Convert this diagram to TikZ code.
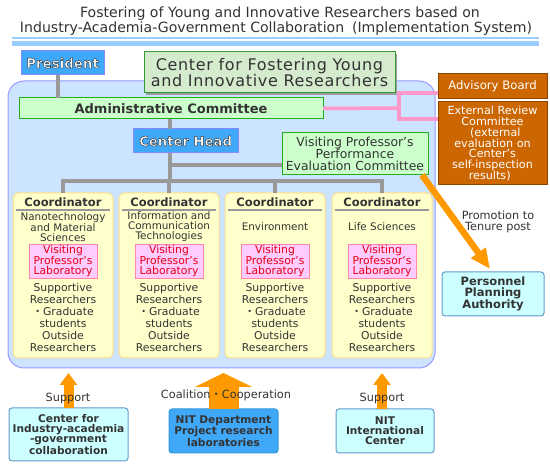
\documentclass[tikz,border=0pt]{standalone}
\usepackage{fontspec}
\setmainfont{DejaVu Sans}
\newfontfamily\cjk{Noto Sans CJK JP}
\usetikzlibrary{arrows.meta,shadows,calc}
\definecolor{txt}{HTML}{333333}
\definecolor{band}{HTML}{99CCFF}
\definecolor{presblue}{HTML}{40A8F8}
\definecolor{presedge}{HTML}{8888FF}
\definecolor{mainfill}{HTML}{CCE4FF}
\definecolor{mainedge}{HTML}{9999FF}
\definecolor{cfill}{HTML}{D5EBCD}
\definecolor{cedge}{HTML}{339933}
\definecolor{lgreen}{HTML}{CCFFCC}
\definecolor{gedge}{HTML}{22B022}
\definecolor{brown}{HTML}{CC6600}
\definecolor{brownedge}{HTML}{8C4600}
\definecolor{yfill}{HTML}{FFFFCC}
\definecolor{yedge}{HTML}{FFE08A}
\definecolor{pfill}{HTML}{FFCCFF}
\definecolor{pedge}{HTML}{FF88AA}
\definecolor{ptext}{HTML}{E60012}
\definecolor{orng}{HTML}{FF9900}
\definecolor{cyanfill}{HTML}{CCFFFF}
\definecolor{cyanedge}{HTML}{6699CC}
\definecolor{nitedge}{HTML}{3399DD}
\definecolor{grayline}{HTML}{999999}
\definecolor{pinkline}{HTML}{FF99CC}
\newcommand{\fs}[2]{\fontsize{#1}{#2}\selectfont}
\newcommand{\outl}[1]{{\color{white}\special{pdf:literal direct 2 Tr 0.45 w 0.2 0.2 0.2 RG}#1\special{pdf:literal direct 0 Tr}}}
\begin{document}
\begin{tikzpicture}[x=1pt,y=-1pt,
  every node/.style={inner sep=0pt, outer sep=0pt, align=center, text=txt},
  sz/.style 2 args={minimum width=#1, minimum height=#2},
  bluebox/.style={draw=presedge, fill=presblue, line width=1pt},
  greenbox/.style={draw=gedge, fill=lgreen, line width=1pt},
  brownbox/.style={draw=brownedge, fill=brown, line width=1pt, text=white},
  coordbox/.style={draw=yedge, fill=yfill, line width=1pt, rounded corners=5pt, minimum width=100pt, minimum height=165pt},
  labbox/.style={draw=pedge, fill=pfill, line width=0.8pt, text=ptext, minimum width=68pt, minimum height=34pt, font=\fs{10.8}{10}},
  cyanbox/.style={draw=cyanedge, fill=cyanfill, line width=1pt, rounded corners=3pt},
  gline/.style={draw=grayline, line width=3.3pt},
  pline/.style={draw=pinkline, line width=3.5pt}
]
\useasboundingbox (0,0) rectangle (550,468);
\fill[white] (0,0) rectangle (550,468);

% title
\node[anchor=base, font=\fs{14.1}{14}] (t1) at (280,17.4) {Fostering of Young and Innovative Researchers based on};
\node[anchor=base, font=\fs{14.1}{14}] (t2) at (276,32.2) {Industry-Academia-Government Collaboration\hspace{0.55em}(Implementation System)};
\fill[band] (12,37.3) rectangle (539,39.3);
\fill[band] (12,41.3) rectangle (539,46);

% main container
\node[draw=mainedge, fill=mainfill, line width=1pt, rounded corners=16pt, sz={427}{287}] (main) at (221.5,224.5) {};

% top boxes
\node[bluebox, sz={83}{24}, font=\fs{13.4}{14}\bfseries] (pres) at (62.5,63) {\outl{President}};
\node[draw=cedge, fill=cfill, line width=1pt, sz={251}{41}, drop shadow={shadow xshift=2pt, shadow yshift=-2pt, fill=black!45, opacity=0.8}, font=\fs{16}{16}\addfontfeature{LetterSpace=4}] (center) at (269.5,72.5) {Center for Fostering Young\\and Innovative Researchers};
\node[greenbox, sz={304}{21}, font=\fs{13}{14}\bfseries] (admin) at (171,108.5) {Administrative Committee};
\node[brownbox, sz={109}{25}, font=\fs{11.7}{12}] (adv) at (492.5,86.5) {Advisory Board};
\node[brownbox, sz={109}{83}, font=\fs{11.2}{10.9}] (ext) at (492.5,143.5) {External Review\\Committee\\\hspace*{0.5em}(external\\evaluation on\\Center's\\self-inspection\\results)\hspace*{0.5em}};
\node[bluebox, sz={105}{24}, font=\fs{13.2}{14}\bfseries] (head) at (185.5,141) {\outl{Center Head}};
\node[greenbox, sz={146}{42}, font=\fs{12.4}{12.3}] (eval) at (355,154) {Visiting Professor's\\Performance\\Evaluation Committee};

% connectors
\coordinate (tx) at (170,0);
\coordinate (px) at (58,0);
\coordinate (bus) at (170,181);
\coordinate (br) at (170,165);
\coordinate (pj) at (399,108);
\draw[gline] (px |- pres.south) -- (px |- admin.north);
\draw[gline] (tx |- admin.south) -- (tx |- head.north);
\draw[gline] (tx |- head.south) -- (bus);
\draw[gline] (br) -- (eval.west |- br);
\draw[pline] (admin.east) -- (pj);
\draw[pline] ($(adv.west |- 0,93)$) -| (pj);
\draw[pline] ($(ext.west |- 0,119)$) -| (pj);

% coordinators
\foreach \i/\cx/\subj in {1/63/{Nanotechnology\\and Material\\Sciences}, 2/169/{Information and\\Communication\\Technologies}, 3/275/{Environment}, 4/382/{Life Sciences}}{
  \node[coordbox] (co\i) at (\cx,275.5) {};
  \node[font=\fs{11.5}{12}\bfseries] (ct\i) at (\cx,202) {Coordinator};
  \draw[grayline, line width=2pt] (\cx-47,210) -- (\cx+47,210);
  \node[font=\fs{10.4}{10}] (cs\i) at (\cx,227) {\subj};
  \node[labbox] (cl\i) at (\cx,261) {Visiting\\Professor's\\Laboratory};
  \node[font=\fs{10.8}{12}] (cm\i) at (\cx,317.5) {Supportive\\Researchers\\{\cjk ・}Graduate\\students\\Outside\\Researchers};
}
\draw[gline] (co1.north) -- (co1.north |- bus) -- (co4.north |- bus) -- (co4.north);
\draw[gline] (co2.north) -- (co2.north |- bus);
\draw[gline] (co3.north) -- (co3.north |- bus);

% personnel
\node[cyanbox, sz={102}{44}, font=\fs{11.5}{11}\bfseries] (pers) at (493,294) {Personnel\\Planning\\Authority};
\draw[orng, line width=6.5pt, -{Triangle[width=17pt,length=20pt]}] ($(eval.south east)+(-6,0)$) -- ($(pers.north)+(-3,-3)$);
\node[font=\fs{11.3}{10.7}] (promo) at (498,222) {Promotion to\\Tenure post};

% bottom boxes
\node[cyanbox, sz={119}{53}, font=\fs{10.6}{10}\bfseries] (ind) at (68.5,434.5) {Center for\\Industry-academia\\-government\\collaboration};
\node[draw=nitedge, fill=presblue, line width=1pt, rounded corners=3pt, sz={109}{44}, font=\fs{10.6}{10}\bfseries] (dept) at (223.5,431) {NIT Department\\Project research\\laboratories};
\node[cyanbox, sz={98}{44}, font=\fs{10.6}{10}\bfseries] (intl) at (385,431) {NIT\\International\\Center};

\draw[orng, line width=10pt, -{Triangle[width=17pt,length=12pt]}] (ind.north) -- ++(0,-35);
\draw[orng, line width=30pt, -{Triangle[width=57pt,length=14pt]}] (dept.north) -- ++(0,-36);
\draw[orng, line width=10pt, -{Triangle[width=17pt,length=12pt]}] ($(intl.north)+(-3,0)$) -- ++(0,-36);
\node[font=\fs{11.3}{12}] (sup1) at (68,398) {Support};
\node[font=\fs{11.3}{12}] (coal) at (226,395) {Coalition{\cjk ・}Cooperation};
\node[font=\fs{11.3}{12}] (sup2) at (382,398) {Support};
\end{tikzpicture}
\end{document}
